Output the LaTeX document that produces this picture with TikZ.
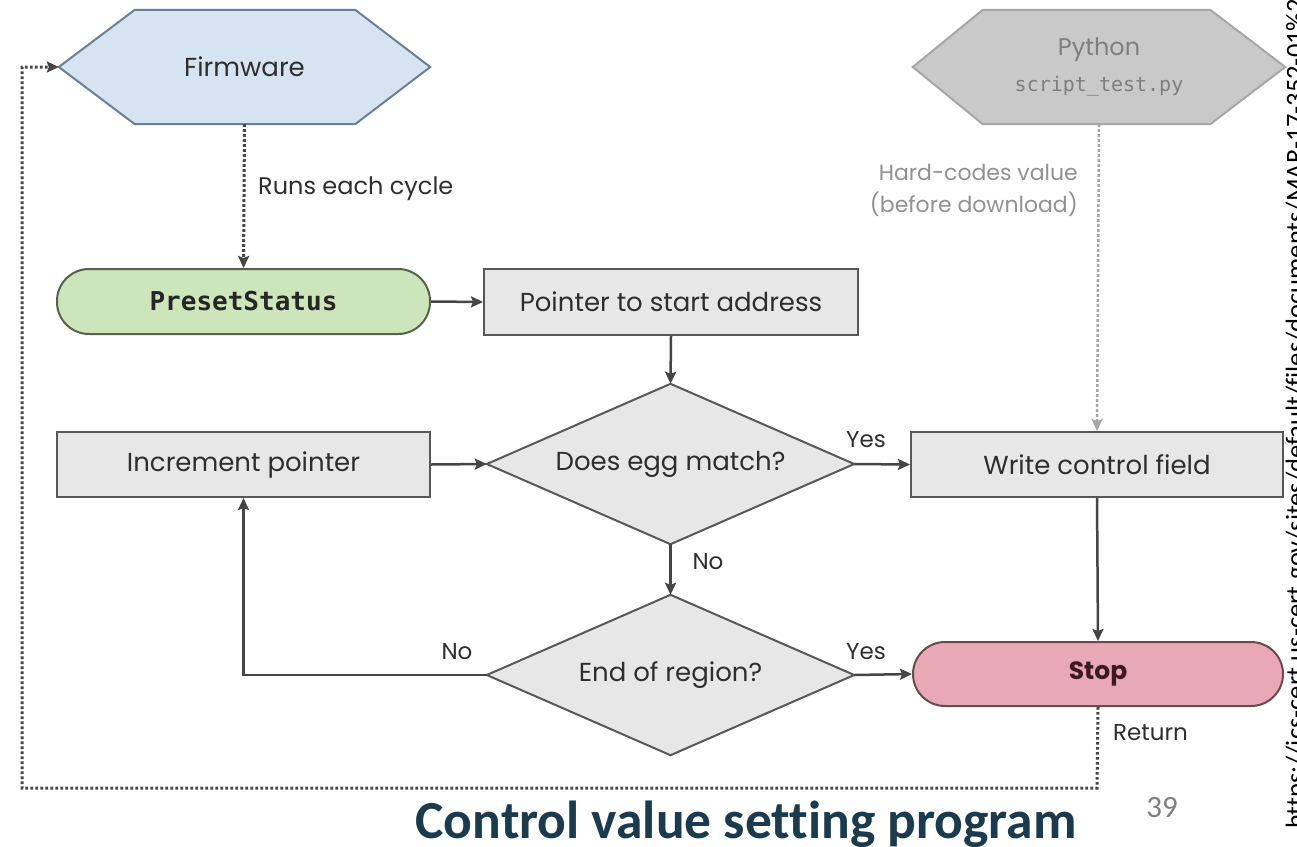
\documentclass[tikz,border=0pt]{standalone}
\usepackage{fontspec}
\setmainfont{Poppins}
\newfontfamily\slidefont[Ligatures={NoCommon}]{Carlito}
\setmonofont{DejaVu Sans Mono}
\usetikzlibrary{arrows.meta,calc,backgrounds}

\definecolor{fwfill}{HTML}{D6E4F1}
\definecolor{fwline}{HTML}{6C8094}
\definecolor{pyfill}{HTML}{C9C9C9}
\definecolor{pyline}{HTML}{A6A6A6}
\definecolor{pytext}{HTML}{7E7E7E}
\definecolor{greenfill}{HTML}{CDE5BA}
\definecolor{greenline}{HTML}{56624C}
\definecolor{boxfill}{HTML}{E7E7E7}
\definecolor{boxline}{HTML}{585858}
\definecolor{stopfill}{HTML}{E8A8B5}
\definecolor{stopline}{HTML}{6A4A51}
\definecolor{stoptext}{HTML}{3C1A22}
\definecolor{txt}{HTML}{2E2E2E}
\definecolor{arrowc}{HTML}{454545}
\definecolor{titleblue}{HTML}{1B3A4E}
\definecolor{pagenum}{HTML}{808080}

\tikzset{
  lbl/.style={font=\fontsize{26}{30}\selectfont, text=txt, inner sep=0pt},
  small/.style={font=\fontsize{23}{28}\selectfont, text=txt, inner sep=0pt},
  procbox/.style={draw=boxline, fill=boxfill, line width=2pt, inner sep=0pt,
    lbl, minimum height=65pt},
  decision/.style={lbl, minimum width=367pt, minimum height=160pt},
  diamondpath/.style={draw=boxline, fill=boxfill, line width=2pt, line join=miter},
  hexpath/.style={line width=2pt, line join=miter},
  terminal/.style={rectangle, rounded corners=32pt, line width=2pt, inner sep=0pt,
    minimum height=65pt},
  flow/.style={draw=arrowc, line width=2.5pt,
    -{Stealth[length=12pt,width=11pt,inset=2pt]}},
  dotflow/.style={flow, line width=3pt, dash pattern=on 2.6pt off 2.4pt},
  greyflow/.style={dotflow, line width=2.5pt, draw=pyline},
}

\begin{document}
\begin{tikzpicture}[x=1pt,y=-1pt]
\useasboundingbox (0,0) rectangle (1297,846);

% Shape nodes (outlines are drawn behind them below)
\node[lbl, minimum width=371pt, minimum height=114pt] (fw) at (244.5,67) {Firmware};
\node[minimum width=372pt, minimum height=114pt, inner sep=0pt, align=center,
  text=pytext] (py) at (1099,67)
  {{\fontsize{24}{30}\selectfont Python}\\[13pt]
   {\fontsize{20}{24}\ttfamily script\_test.py}};
\node[decision] (egg) at (670.5,464) {Does egg match?};
\node[decision] (eor) at (670.5,675) {End of region?};

\begin{scope}[on background layer]
  \fill[white] (0,0) rectangle (1297,846);
  % Firmware hexagon
  \draw[hexpath, fill=fwfill, draw=fwline]
    (fw.west) -- ($(fw.north west)+(76,0)$) -- ($(fw.north east)+(-75,0)$) -- (fw.east)
    -- ($(fw.south east)+(-75,0)$) -- ($(fw.south west)+(76,0)$) -- cycle;
  % Python hexagon
  \draw[hexpath, fill=pyfill, draw=pyline]
    (py.west) -- ($(py.north west)+(70,0)$) -- ($(py.north east)+(-75,0)$) -- (py.east)
    -- ($(py.south east)+(-75,0)$) -- ($(py.south west)+(70,0)$) -- cycle;
  % Decision diamonds
  \draw[diamondpath] (egg.north) -- (egg.east) -- (egg.south) -- (egg.west) -- cycle;
  \draw[diamondpath] (eor.north) -- (eor.east) -- (eor.south) -- (eor.west) -- cycle;
\end{scope}

% Process nodes
\node[terminal, draw=greenline, fill=greenfill, minimum width=373pt,
  font={\fontsize{26}{30}\ttfamily\bfseries}, text=black!85] (ps) at (243.5,301.5) {PresetStatus};
\node[procbox, minimum width=374pt, minimum height=66pt] (ptr) at (671,302) {Pointer to start address};
\node[procbox, minimum width=373pt] (inc) at (243.5,464.5) {Increment pointer};
\node[procbox, minimum width=372pt] (wcf) at (1097,464.5) {Write control field};
\node[terminal, draw=stopline, fill=stopfill, minimum width=370pt, minimum height=64pt,
  font={\fontsize{25}{30}\selectfont\bfseries}, text=stoptext] (stop) at (1098,674) {Stop};

% Connectors
\draw[dotflow] (fw.south) -- (ps.north);
\node[font=\fontsize{24}{30}\selectfont, text=txt, inner sep=0pt, anchor=west]
  (runs) at (258,189) {Runs each cycle};
\draw[flow] (ps.east) -- (ptr.west);
\draw[flow] (ptr.south) -- (egg.north);
\draw[flow] (inc.east) -- (egg.west);
\draw[flow] (egg.east) -- (wcf.west);
\node[small] (yes1) at (866,440) {Yes};
\draw[flow] (egg.south) -- (eor.north);
\node[small] (no1) at (708,562) {No};
\draw[flow] (eor.west) -| (inc.south);
\node[small] (no2) at (457,652) {No};
\draw[flow] (eor.east) -- (stop.west);
\node[small] (yes2) at (866,652) {Yes};
\draw[flow] (wcf.south) -- (stop.north);
\draw[greyflow] (py.south) -- (wcf.north);
\node[font=\fontsize{22}{32}\selectfont, text=pytext!85, align=right, anchor=east,
  inner sep=0pt] (hard) at (1078,190) {Hard-codes value\\(before download)};

% Return loop back to the firmware
\coordinate (rb) at (1097,788);
\coordinate (lb) at (22,788);
\draw[dotflow] (stop.south) -- (rb) -- (lb) -- (lb |- fw.west) -- (fw.west);
\node[small, anchor=west] (ret) at (1113,733) {Return};

% Slide title, page number and source link
\node[font={\slidefont\fontsize{53.5}{60}\selectfont\bfseries}, text=titleblue,
  anchor=base, inner sep=0pt] (title) at (746,838) {Control value setting program};
\node[font={\slidefont\fontsize{31}{36}\selectfont}, text=pagenum, inner sep=0pt]
  (pg) at (1162,808) {39};
\node[font={\slidefont\fontsize{26.5}{30}\selectfont}, text=black, rotate=90,
  anchor=base west, inner sep=0pt] (src) at (1304,829)
  {https://ics-cert.us-cert.gov/sites/default/files/documents/MAR-17-352-01\%20HatMan};
\end{tikzpicture}
\end{document}
